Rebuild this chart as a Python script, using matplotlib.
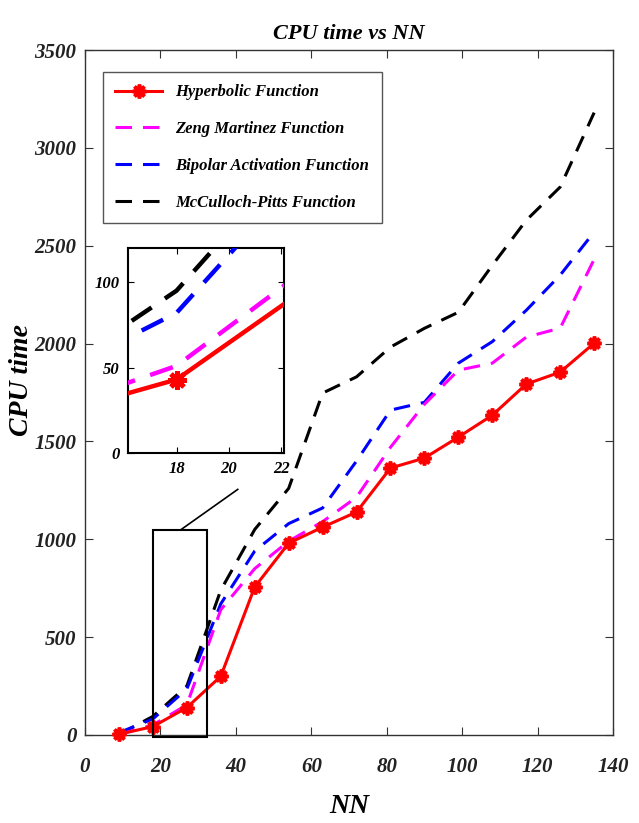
import matplotlib
matplotlib.use("Agg")
import matplotlib.pyplot as plt
from matplotlib.patches import Rectangle

plt.rcParams['font.family'] = ['Liberation Serif', 'DejaVu Serif']
plt.rcParams['font.style'] = 'italic'
plt.rcParams['font.weight'] = 'bold'

nn = [9, 18, 27, 36, 45, 54, 63, 72, 81, 90, 99, 108, 117, 126, 135]
hyperbolic = [4, 43, 140, 300, 756, 980, 1062, 1139, 1364, 1415, 1522, 1634, 1793, 1854, 2002]
zeng = [3, 51, 154, 640, 850, 990, 1090, 1215, 1470, 1690, 1864, 1900, 2033, 2079, 2430]
bipolar = [12, 82, 235, 670, 940, 1080, 1160, 1400, 1660, 1700, 1900, 2010, 2170, 2350, 2570]
mcculloch = [2, 95, 250, 740, 1050, 1260, 1747, 1830, 1982, 2078, 2160, 2400, 2630, 2800, 3180]
labels = ["Hyperbolic Function", "Zeng Martinez Function",
          "Bipolar Activation Function", "McCulloch-Pitts Function"]
xticks = [0, 20, 40, 60, 80, 100, 120, 140]
yticks = [0, 500, 1000, 1500, 2000, 2500, 3000, 3500]

W, H = 639, 823
fig = plt.figure(figsize=(W / 100, H / 100), dpi=100)
ax = fig.add_axes([85 / W, 1 - 735 / H, (613 - 85) / W, (735 - 50) / H])

dash = (0, (5.4, 3.6))
star = (8, 2, 0)

def draw(a, lw, ms, mew, clip):
    a.plot(nn, hyperbolic, color='red', lw=lw, marker=star, ms=ms, mew=mew,
           mec='red', mfc='red', label=labels[0], clip_on=clip, zorder=5)
    a.plot(nn, zeng, color='magenta', lw=lw, ls=dash, label=labels[1], zorder=4)
    a.plot(nn, bipolar, color='blue', lw=lw, ls=dash, label=labels[2], zorder=3)
    a.plot(nn, mcculloch, color='black', lw=lw, ls=dash, label=labels[3], zorder=2)

draw(ax, 2.2, 10, 2.6, False)
ax.set_xlim(0, 140)
ax.set_ylim(0, 3500)
ax.set_xticks(xticks)
ax.set_yticks(yticks)
ax.tick_params(direction='in', top=True, right=True, labeltop=False, labelright=False,
               length=6, width=0.8, colors='#333333', labelcolor='#222222',
               labelsize=15)
ax.tick_params(axis='y', pad=6)
ax.tick_params(axis='x', pad=16)
for s in ax.spines.values():
    s.set_color('#333333')
    s.set_linewidth(1.0)
ax.set_title("CPU time vs NN", fontsize=16, fontweight='bold', pad=8)
ax.set_xlabel("NN", fontsize=20, fontweight='bold')
ax.xaxis.set_label_coords(0.5, -0.086)
ax.set_ylabel("CPU time", fontsize=20, fontweight='bold')
ax.yaxis.set_label_coords(-0.097, 0.518)

leg = ax.legend(loc='upper left', bbox_to_anchor=(0.034, 0.968), borderaxespad=0,
                fontsize=12, handlelength=2.8, labelspacing=1.25, fancybox=False,
                edgecolor='#555555', framealpha=1, borderpad=0.75)
leg.get_frame().set_linewidth(1.0)

# zoom rectangle and connector
ax.add_patch(Rectangle((18, -8), 14.3, 1058, fill=False, ec='black', lw=1.5,
                       clip_on=False, zorder=6))
ax.plot([25.5, 40.5], [1050, 1255], color='black', lw=1.2, zorder=6)

# inset
ins = fig.add_axes([128 / W, 1 - 453 / H, (284 - 128) / W, (453 - 248) / H])
draw(ins, 3.2, 13, 3.5, True)
ins.set_xlim(16.15, 22.1)
ins.set_ylim(0, 120)
ins.set_xticks([18, 20, 22])
ins.set_yticks([0, 50, 100])
ins.tick_params(direction='in', top=True, right=True, length=4, width=0.8,
                labelsize=12, pad=6)
for s in ins.spines.values():
    s.set_color('black')
    s.set_linewidth(1.5)

fig.savefig("out.png", dpi=100)
